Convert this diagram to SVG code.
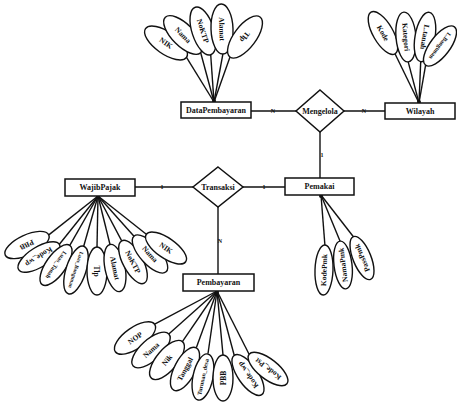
<svg xmlns="http://www.w3.org/2000/svg" width="457" height="403" viewBox="0 0 457 403">
<style>
text{font-family:"Liberation Serif","Times New Roman",serif;font-weight:bold;fill:#111}
.ent rect{fill:#fff;stroke:#111;stroke-width:1.5}
.ent text{font-size:8px;text-anchor:middle}
.rel polygon{fill:#fff;stroke:#111;stroke-width:1.5}
.rel text{font-size:8px;text-anchor:middle}
.att ellipse{fill:#fff;stroke:#111;stroke-width:1.4}
.att text{font-size:7.5px;text-anchor:middle}
.att text.s{font-size:6px}
#connectors line{stroke:#111;stroke-width:1.4}
.card{font-size:6px;text-anchor:middle}
.hub{fill:#111}
</style>
<rect width="457" height="403" fill="#fff"/>
<g id="connectors">
<line x1="251" y1="111" x2="296" y2="111"/>
<line x1="344" y1="111" x2="385" y2="111"/>
<line x1="320" y1="132" x2="320" y2="178"/>
<line x1="135" y1="187" x2="193" y2="187"/>
<line x1="243" y1="187" x2="285" y2="187"/>
<line x1="218" y1="207" x2="218" y2="274"/>
<text class="card" x="273" y="113">N</text>
<text class="card" x="364" y="113">N</text>
<text class="card" x="322" y="157">1</text>
<text class="card" x="162" y="189">1</text>
<text class="card" x="264" y="189">1</text>
<text class="card" x="220" y="243">N</text>
<line x1="214" y1="102" x2="186.5" y2="57.3"/>
<line x1="214" y1="102" x2="200.7" y2="52.7"/>
<line x1="214" y1="102" x2="210.7" y2="54.8"/>
<line x1="214" y1="102" x2="222.9" y2="54"/>
<line x1="214" y1="102" x2="230" y2="57"/>
<circle class="hub" cx="214" cy="101" r="2"/>
<line x1="419" y1="103" x2="395" y2="53.8"/>
<line x1="419" y1="103" x2="408.2" y2="61.9"/>
<line x1="419" y1="103" x2="420.7" y2="61.6"/>
<line x1="419" y1="103" x2="425.6" y2="65.2"/>
<circle class="hub" cx="419" cy="102" r="2"/>
<line x1="98" y1="196" x2="48.8" y2="234.9"/>
<line x1="98" y1="196" x2="59.4" y2="244.3"/>
<line x1="98" y1="196" x2="69.8" y2="245.3"/>
<line x1="98" y1="196" x2="83.7" y2="246.2"/>
<line x1="98" y1="196" x2="97" y2="247"/>
<line x1="98" y1="196" x2="110" y2="244.5"/>
<line x1="98" y1="196" x2="121.7" y2="240.8"/>
<line x1="98" y1="196" x2="134" y2="236.2"/>
<line x1="98" y1="196" x2="146.3" y2="234.2"/>
<circle class="hub" cx="98" cy="197" r="2"/>
<line x1="321" y1="195" x2="324.9" y2="245"/>
<line x1="321" y1="195" x2="340.1" y2="241.2"/>
<line x1="321" y1="195" x2="353.4" y2="236.7"/>
<circle class="hub" cx="321" cy="196" r="2"/>
<line x1="217" y1="291" x2="154.7" y2="324.2"/>
<line x1="217" y1="291" x2="168.8" y2="333.9"/>
<line x1="217" y1="291" x2="182.4" y2="341.6"/>
<line x1="217" y1="291" x2="196.3" y2="347.8"/>
<line x1="217" y1="291" x2="208" y2="353.5"/>
<line x1="217" y1="291" x2="223" y2="355"/>
<line x1="217" y1="291" x2="234.2" y2="355.3"/>
<line x1="217" y1="291" x2="249.1" y2="354.2"/>
<circle class="hub" cx="217" cy="292" r="2"/>
</g>

<g id="DataPembayaran" class="ent"><rect x="181" y="102" width="70" height="16"/><text x="216" y="113" font-size="7.3">DataPembayaran</text></g>
<g id="Wilayah" class="ent"><rect x="385" y="103" width="70" height="16"/><text x="420" y="114">Wilayah</text></g>
<g id="WajibPajak" class="ent"><rect x="65" y="179" width="70" height="17"/><text x="100" y="190">WajibPajak</text></g>
<g id="Pemakai" class="ent"><rect x="285" y="178" width="69" height="17"/><text x="319.5" y="189">Pemakai</text></g>
<g id="Pembayaran" class="ent"><rect x="183" y="274" width="71" height="17"/><text x="218.5" y="285">Pembayaran</text></g>

<g id="Mengelola" class="rel"><polygon points="320,90 344,111 320,132 296,111"/><text x="320" y="113.5">Mengelola</text></g>
<g id="Transaksi" class="rel"><polygon points="218,167 243,187 218,207 193,187"/><text x="218" y="189.5">Transaksi</text></g>

<g id="dp_nik" class="att" transform="translate(166,43) rotate(35)"><ellipse rx="25" ry="11"/><text dy="2.6">NIK</text></g>
<g id="dp_nama" class="att" transform="translate(183,35) rotate(45)"><ellipse rx="25" ry="11"/><text dy="2.6">Nama</text></g>
<g id="dp_noktp" class="att" transform="translate(203,31) rotate(72)"><ellipse rx="25" ry="11"/><text dy="2.6">NoKTP</text></g>
<g id="dp_alamat" class="att" transform="translate(222,29) rotate(88)"><ellipse rx="25" ry="11"/><text dy="2.6">Alamat</text></g>
<g id="dp_tlp" class="att" transform="translate(245,37) rotate(127)"><ellipse rx="25" ry="11"/><text dy="2.6">Tlp</text></g>

<g id="w_kode" class="att" transform="translate(383,33) rotate(60)"><ellipse rx="24" ry="10"/><text dy="2.6">Kode</text></g>
<g id="w_kategori" class="att" transform="translate(406,37) rotate(85)"><ellipse rx="25" ry="10"/><text dy="2.6">Kategori</text></g>
<g id="w_ltanah" class="att" transform="translate(425,37) rotate(100)"><ellipse rx="25" ry="10"/><text dy="2.6">L.tanah</text></g>
<g id="w_lbangunan" class="att" transform="translate(440,46) rotate(127)"><ellipse rx="24" ry="10"/><text class="s" dy="2">L.Bangunan</text></g>

<g id="wp_pbb" class="att" transform="translate(27,245) rotate(155)"><ellipse rx="24" ry="10"/><text dy="2.6">PBB</text></g>
<g id="wp_kodewp" class="att" transform="translate(39,257) rotate(148)"><ellipse rx="24" ry="10"/><text dy="2.6">Kode_wp</text></g>
<g id="wp_luastanah" class="att" transform="translate(56,265) rotate(125)"><ellipse rx="24" ry="10"/><text class="s" dy="2">Luas_Tanah</text></g>
<g id="wp_luasbangunan" class="att" transform="translate(76,270) rotate(108)"><ellipse rx="25" ry="10"/><text class="s" dy="2" style="font-size:5.4px">Luas_Bangunan</text></g>
<g id="wp_tlp" class="att" transform="translate(97,271) rotate(90)"><ellipse rx="24" ry="10"/><text dy="2.6">Tlp</text></g>
<g id="wp_alamat" class="att" transform="translate(115,268) rotate(78)"><ellipse rx="24" ry="10"/><text dy="2.6">Alamat</text></g>
<g id="wp_noktp" class="att" transform="translate(133,262) rotate(62)"><ellipse rx="24" ry="10"/><text dy="2.6">NoKTP</text></g>
<g id="wp_nama" class="att" transform="translate(150,254) rotate(48)"><ellipse rx="24" ry="10"/><text dy="2.6">Nama</text></g>
<g id="wp_nik" class="att" transform="translate(166,248) rotate(35)"><ellipse rx="24" ry="10"/><text dy="2.6">NIK</text></g>

<g id="p_kodepmk" class="att" transform="translate(324,270) rotate(-88)"><ellipse rx="25" ry="9"/><text dy="2.6">KodePmk</text></g>
<g id="p_namapmk" class="att" transform="translate(343,265) rotate(-97)"><ellipse rx="24" ry="9"/><text dy="2.6">NamaPmk</text></g>
<g id="p_passpmk" class="att" transform="translate(362,258) rotate(-112)"><ellipse rx="23" ry="9"/><text dy="2.6">PassPmk</text></g>

<g id="b_nop" class="att" transform="translate(135,338) rotate(-35)"><ellipse rx="24" ry="10.5"/><text dy="2.6">NOP</text></g>
<g id="b_nama" class="att" transform="translate(151,350) rotate(-42)"><ellipse rx="24" ry="10.5"/><text dy="2.6">Nama</text></g>
<g id="b_nik" class="att" transform="translate(167,360) rotate(-50)"><ellipse rx="24" ry="10.5"/><text dy="2.6">Nik</text></g>
<g id="b_tanggal" class="att" transform="translate(185,369) rotate(-62)"><ellipse rx="24" ry="10.5"/><text dy="2.6">Tanggal</text></g>
<g id="b_turunan" class="att" transform="translate(203,377) rotate(-78)"><ellipse rx="23.5" ry="10"/><text class="s" dy="2">Turunan_desa</text></g>
<g id="b_pbb" class="att" transform="translate(223,378) rotate(-90)"><ellipse rx="23" ry="10"/><text dy="2.6">PBB</text></g>
<g id="b_kodewp" class="att" transform="translate(248,375) rotate(-125)"><ellipse rx="24" ry="10"/><text dy="2.6">Kode_wp</text></g>
<g id="b_kodepst" class="att" transform="translate(268,369) rotate(-142)"><ellipse rx="24" ry="10"/><text dy="2.6">Kode_Pst</text></g>
</svg>
